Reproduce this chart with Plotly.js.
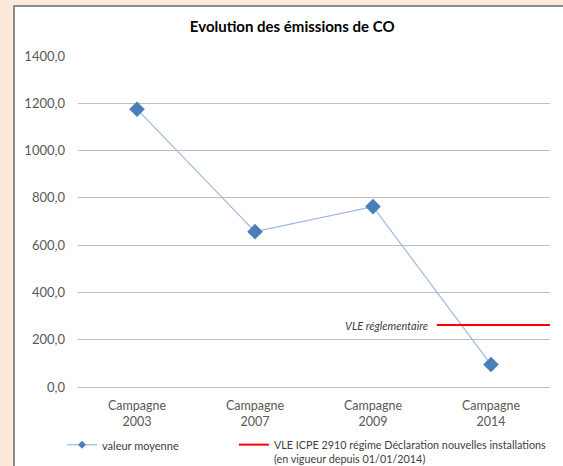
<!DOCTYPE html>
<html>
<head>
<meta charset="utf-8">
<script src="https://cdn.plot.ly/plotly-3.0.1.min.js"></script>
<style>
  html, body { margin: 0; padding: 0; background: #FDE9DB; width: 563px; height: 466px; overflow: hidden; }
  #box { position: absolute; left: 13px; top: 5px; width: 550px; height: 461px; border-left: 2px solid #8c8c8c; border-top: 2px solid #8c8c8c; background: #ffffff; }
  #chart { width: 550px; height: 459px; }
</style>
</head>
<body>
<div id="box"><div id="chart"></div></div>
<script>
const categories = ["Campagne<br>2003", "Campagne<br>2007", "Campagne<br>2009", "Campagne<br>2014"];
const valeurMoyenne = [1175, 657, 763, 95];
const vleValue = 262;
const vleCategoryIndex = 3;
const yTicks = [0, 200, 400, 600, 800, 1000, 1200, 1400];

const idx = categories.map((c, i) => i);
const FONT = 'Lato, "Open Sans", sans-serif';

const traces = [
  {
    x: idx, y: valeurMoyenne, type: 'scatter', mode: 'lines+markers',
    line: { color: '#9DB9DE', width: 1.2 },
    marker: { symbol: 'diamond', size: 12, color: '#4A7EBB' },
    showlegend: false, hoverinfo: 'skip'
  },
  {
    x: [null], y: [null], type: 'scatter', mode: 'lines+markers',
    name: 'valeur moyenne', legend: 'legend',
    line: { color: '#9DB9DE', width: 1.2 },
    marker: { symbol: 'diamond', size: 6, color: '#4A7EBB' }
  },
  {
    x: [vleCategoryIndex - 0.46, vleCategoryIndex + 0.5], y: [vleValue, vleValue],
    type: 'scatter', mode: 'lines', legend: 'legend2',
    name: 'VLE ICPE 2910 régime Déclaration nouvelles installations<br>(en vigueur depuis 01/01/2014)',
    line: { color: '#FF0000', width: 2 }
  }
];

const layout = {
  width: 550, height: 459,
  margin: { l: 63, r: 15, t: 49, b: 79, autoexpand: false },
  paper_bgcolor: '#ffffff', plot_bgcolor: '#ffffff',
  separators: ', ',
  font: { family: FONT, size: 12.5, color: '#595959' },
  title: {
    text: '<b>Evolution des émissions de CO</b>',
    font: { family: FONT, size: 15, color: '#000000' },
    xref: 'container', x: 0.504, xanchor: 'center',
    yref: 'container', y: 0.956, yanchor: 'middle'
  },
  xaxis: {
    range: [-0.5, 3.5], tickvals: idx, ticktext: categories,
    showgrid: false, zeroline: false, showline: false, ticks: '',
    ticklabelstandoff: 9,
    tickfont: { size: 12.5, color: '#595959' }, fixedrange: true
  },
  yaxis: {
    range: [0, 1400], tickvals: yTicks, tickformat: '.1f',
    showgrid: true, gridcolor: '#BFBFBF', gridwidth: 1,
    zeroline: true, zerolinecolor: '#BFBFBF', zerolinewidth: 1,
    showline: false, ticks: '', ticklabelstandoff: 12,
    tickfont: { size: 13, color: '#595959' }, fixedrange: true
  },
  showlegend: true,
  legend: {
    xref: 'container', yref: 'container',
    x: 0.0855, xanchor: 'left', y: 0.076, yanchor: 'top',
    valign: 'top', font: { family: FONT, size: 11, color: '#404040' }, bgcolor: 'rgba(0,0,0,0)'
  },
  legend2: {
    xref: 'container', yref: 'container',
    x: 0.398, xanchor: 'left', y: 0.076, yanchor: 'top',
    valign: 'top', font: { family: FONT, size: 10.8, color: '#404040' }, bgcolor: 'rgba(0,0,0,0)'
  },
  annotations: [{
    text: '<i>VLE réglementaire</i>', xref: 'x', yref: 'y',
    x: vleCategoryIndex - 0.5, y: vleValue, xanchor: 'right', yanchor: 'middle',
    xshift: -2, showarrow: false, font: { family: FONT, size: 11, color: '#404040' }
  }]
};

Plotly.newPlot('chart', traces, layout, { displayModeBar: false, staticPlot: true });
</script>
</body>
</html>
